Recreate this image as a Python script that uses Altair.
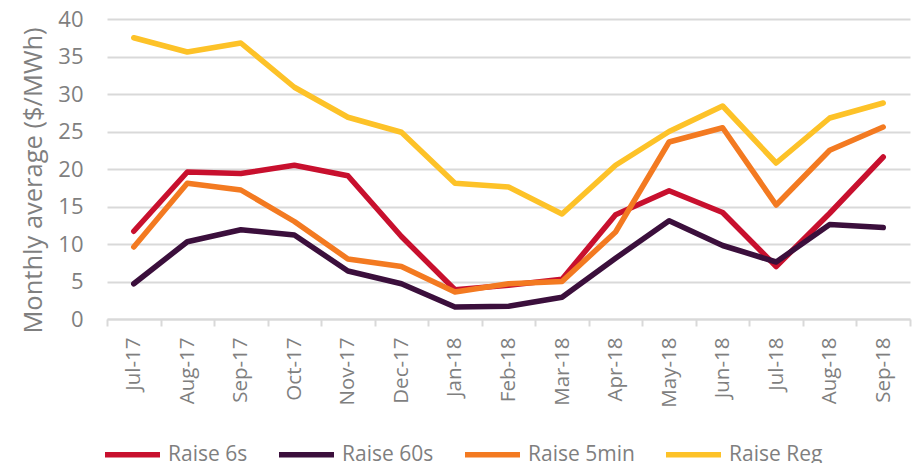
import altair as alt
import pandas as pd

months = ["Jul-17", "Aug-17", "Sep-17", "Oct-17", "Nov-17", "Dec-17", "Jan-18",
          "Feb-18", "Mar-18", "Apr-18", "May-18", "Jun-18", "Jul-18", "Aug-18", "Sep-18"]
raise_6s = [11.7, 19.6, 19.4, 20.5, 19.1, 11.0, 3.9, 4.5, 5.3, 13.9, 17.1, 14.2, 7.0, 14.1, 21.6]
raise_60s = [4.7, 10.3, 11.9, 11.2, 6.4, 4.7, 1.6, 1.7, 2.9, 8.1, 13.1, 9.8, 7.6, 12.6, 12.2]
raise_5min = [9.6, 18.1, 17.2, 13.0, 8.0, 7.0, 3.6, 4.7, 5.0, 11.6, 23.6, 25.5, 15.2, 22.5, 25.6]
raise_reg = [37.5, 35.6, 36.8, 30.9, 26.9, 24.9, 18.1, 17.6, 14.0, 20.5, 25.0, 28.4, 20.8, 26.8, 28.8]

series = ["Raise 6s", "Raise 60s", "Raise 5min", "Raise Reg"]
colors = ["#C8102E", "#3B0F3C", "#F37A21", "#FDC228"]

rows = []
for name, vals in zip(series, [raise_6s, raise_60s, raise_5min, raise_reg]):
    for m, v in zip(months, vals):
        rows.append({"Month": m, "Series": name, "Value": v})
df = pd.DataFrame(rows)

FONT = "Open Sans"
GRAY = "#7F7F7F"

chart = alt.Chart(df).mark_line(strokeWidth=5.5, strokeCap="round", strokeJoin="round").encode(
    x=alt.X("Month:N", sort=months, bandPosition=0.5,
            scale=alt.Scale(type="band", paddingInner=0, paddingOuter=0),
            axis=alt.Axis(title=None, labelAngle=-90, labelFontSize=20.5, labelColor=GRAY,
                          labelFont=FONT, labelPadding=11, tickBand="extent", ticks=True,
                          tickSize=7, tickColor="#D9D9D9", tickWidth=2,
                          domainColor="#D9D9D9", domainWidth=2, grid=False)),
    y=alt.Y("Value:Q", scale=alt.Scale(domain=[0, 40]),
            axis=alt.Axis(title="Monthly average ($/MWh)", values=list(range(0, 41, 5)),
                          titleFontSize=25.5, titleFontWeight="normal", titleColor=GRAY,
                          titleFont=FONT, titleY=161, titleX=-74, titleAngle=-90,
                          titleAlign="center", titleBaseline="middle",
                          labelFontSize=22, labelColor=GRAY, labelFont=FONT, labelPadding=24,
                          ticks=False, domain=False, grid=True, gridColor="#D9D9D9",
                          gridWidth=2)),
    color=alt.Color("Series:N", sort=series,
                    scale=alt.Scale(domain=series, range=colors),
                    legend=alt.Legend(title=None, orient="none", legendX=-5, legendY=405,
                                      direction="horizontal", symbolType="stroke",
                                      symbolStrokeWidth=5.5, symbolSize=3025,
                                      labelFontSize=21, labelColor=GRAY, labelFont=FONT,
                                      columnPadding=20, labelOffset=5)),
).properties(
    width=803, height=300,
    autosize=alt.AutoSizeParams(type="none"),
    padding={"left": 99, "top": 11, "right": 5, "bottom": 144},
).configure_view(stroke=None)

chart.save("out.html", embed_options={"renderer": "svg", "actions": False})
